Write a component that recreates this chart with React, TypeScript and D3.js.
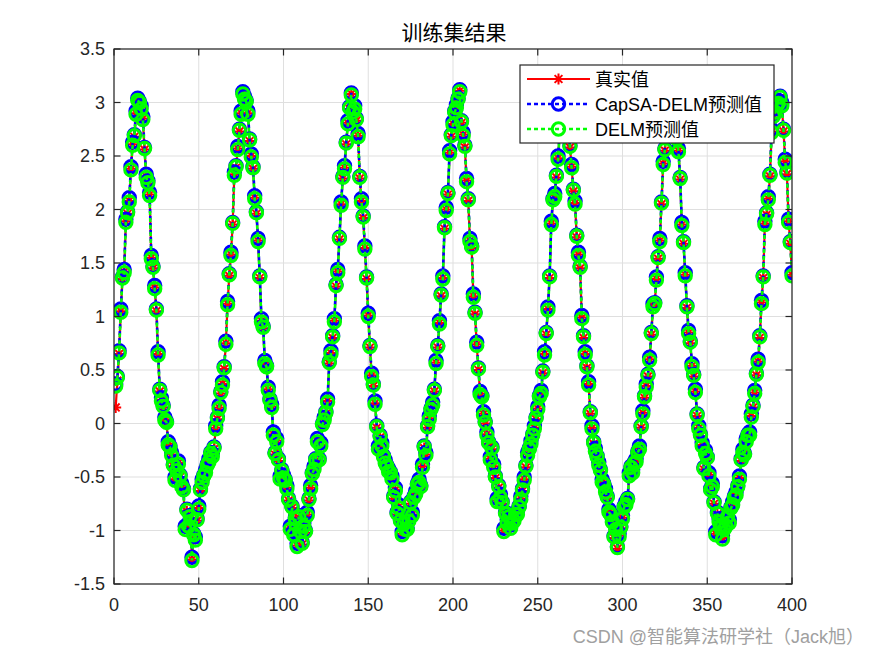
import React from 'react';
import * as d3 from 'd3';

const trueVals: number[] = [0.15,0.40,0.65,1.05,1.35,1.42,1.89,1.96,2.08,2.38,
2.61,2.68,2.90,3.03,2.99,2.95,2.85,2.56,2.31,2.24,
2.14,1.55,1.45,1.27,1.05,0.65,0.30,0.22,0.15,0.04,
0.00,-0.19,-0.23,-0.29,-0.40,-0.52,-0.45,-0.37,-0.50,-0.58,
-0.63,-0.98,-0.82,-0.95,-0.88,-1.27,-1.05,-1.08,-0.91,-0.79,
-0.63,-0.54,-0.50,-0.45,-0.40,-0.35,-0.29,-0.30,-0.24,-0.04,
0.04,0.15,0.28,0.37,0.51,0.75,1.12,1.38,1.58,1.86,
2.33,2.39,2.57,2.73,2.90,3.09,3.04,3.00,2.90,2.64,
2.50,2.38,2.11,1.96,1.71,1.36,0.96,0.89,0.57,0.52,
0.32,0.21,0.16,-0.10,-0.29,-0.16,-0.35,-0.51,-0.45,-0.50,
-0.54,-0.60,-0.72,-0.98,-0.79,-1.03,-0.90,-1.14,-0.88,-1.00,
-1.13,-0.95,-1.02,-0.85,-0.72,-0.60,-0.48,-0.42,-0.35,-0.16,
-0.35,-0.20,-0.02,0.04,0.09,0.21,0.56,0.66,0.80,0.96,
1.28,1.42,1.72,2.05,2.29,2.39,2.61,2.81,2.94,3.08,
2.90,2.95,2.83,2.69,2.29,2.08,1.92,1.64,1.35,1.01,
0.71,0.45,0.35,0.19,-0.04,-0.23,-0.13,-0.20,-0.32,-0.36,
-0.41,-0.44,-0.47,-0.51,-0.70,-0.62,-0.85,-0.78,-0.92,-1.03,
-0.95,-0.98,-1.00,-0.90,-0.75,-0.85,-0.70,-0.65,-0.58,-0.54,
-0.60,-0.40,-0.23,-0.29,-0.04,0.05,0.12,0.18,0.30,0.57,
0.71,0.94,1.19,1.36,1.82,2.00,2.14,2.53,2.68,2.80,
2.90,2.96,3.02,3.11,2.81,2.70,2.58,2.27,2.08,1.71,
1.64,1.19,1.02,0.74,0.50,0.28,0.24,0.09,0.00,-0.10,
-0.19,-0.33,-0.24,-0.40,-0.51,-0.72,-0.60,-0.68,-0.75,-1.00,
-0.85,-0.92,-0.88,-0.97,-0.94,-0.90,-0.86,-0.84,-0.79,-0.70,
-0.63,-0.52,-0.41,-0.29,-0.25,-0.18,-0.12,-0.04,0.04,0.14,
0.24,0.29,0.47,0.65,0.83,1.07,1.36,1.87,2.08,2.13,
2.30,2.48,2.72,2.88,3.00,3.06,2.95,2.78,2.58,2.40,
2.17,2.06,1.74,1.58,1.45,0.99,0.80,0.65,0.52,0.37,
0.09,-0.04,-0.19,-0.25,-0.32,-0.38,-0.45,-0.54,-0.58,-0.63,
-0.70,-0.82,-0.86,-0.91,-1.07,-0.98,-1.17,-1.05,-0.98,-0.88,
-0.79,-0.75,-0.72,-0.48,-0.42,-0.45,-0.38,-0.35,-0.28,-0.23,
-0.04,0.10,0.24,0.35,0.44,0.60,0.83,1.10,1.11,1.35,
1.54,1.71,2.05,2.43,2.55,2.75,2.92,3.02,3.05,2.95,
2.80,2.65,2.55,2.28,1.86,1.68,1.39,1.08,0.85,0.75,
0.54,0.44,0.30,0.07,-0.04,-0.12,-0.20,-0.43,-0.27,-0.33,
-0.48,-0.63,-0.58,-0.75,-1.03,-0.85,-0.91,-0.98,-1.07,-1.00,
-0.95,-0.88,-0.92,-0.80,-0.75,-0.70,-0.66,-0.60,-0.51,-0.35,
-0.26,-0.30,-0.16,-0.12,-0.10,0.07,0.15,0.29,0.45,0.58,
0.80,1.13,1.36,1.87,1.95,2.10,2.31,2.73,2.86,2.92,
2.97,3.00,3.04,2.98,2.73,2.45,2.33,1.89,1.68,1.39];

const capsaVals: number[] = [0.37,0.44,0.68,1.07,1.37,1.44,1.91,1.98,2.11,2.40,
2.63,2.70,2.92,3.04,3.01,2.97,2.87,2.58,2.33,2.27,
2.16,1.57,1.47,1.29,1.07,0.67,0.32,0.24,0.17,0.06,
0.02,-0.17,-0.21,-0.27,-0.38,-0.50,-0.43,-0.35,-0.48,-0.56,
-0.61,-0.96,-0.80,-0.93,-0.86,-1.25,-1.03,-1.06,-0.89,-0.77,
-0.61,-0.52,-0.48,-0.43,-0.38,-0.33,-0.27,-0.28,-0.22,-0.02,
0.06,0.17,0.30,0.39,0.53,0.77,1.14,1.40,1.60,1.88,
2.35,2.41,2.59,2.75,2.92,3.10,3.06,3.02,2.92,2.66,
2.52,2.40,2.13,1.98,1.73,1.38,0.98,0.91,0.59,0.54,
0.34,0.23,0.18,-0.08,-0.27,-0.14,-0.33,-0.49,-0.43,-0.48,
-0.52,-0.58,-0.70,-0.96,-0.77,-1.01,-0.88,-1.12,-0.86,-0.98,
-1.11,-0.93,-1.00,-0.83,-0.70,-0.58,-0.46,-0.40,-0.33,-0.14,
-0.33,-0.18,0.00,0.06,0.11,0.23,0.58,0.68,0.82,0.98,
1.30,1.44,1.74,2.07,2.31,2.41,2.63,2.83,2.96,3.09,
2.92,2.97,2.85,2.71,2.31,2.10,1.94,1.66,1.37,1.03,
0.73,0.47,0.37,0.21,-0.02,-0.21,-0.11,-0.18,-0.30,-0.34,
-0.39,-0.42,-0.45,-0.49,-0.68,-0.60,-0.83,-0.76,-0.90,-1.01,
-0.93,-0.96,-0.98,-0.88,-0.73,-0.83,-0.68,-0.63,-0.56,-0.52,
-0.58,-0.38,-0.21,-0.27,-0.02,0.07,0.14,0.20,0.32,0.59,
0.73,0.96,1.21,1.38,1.84,2.02,2.16,2.55,2.70,2.82,
2.92,2.98,3.04,3.12,2.83,2.72,2.60,2.29,2.10,1.73,
1.66,1.21,1.04,0.76,0.52,0.30,0.26,0.11,0.02,-0.08,
-0.17,-0.31,-0.22,-0.38,-0.49,-0.70,-0.58,-0.66,-0.73,-0.98,
-0.83,-0.90,-0.86,-0.95,-0.92,-0.88,-0.84,-0.82,-0.77,-0.68,
-0.61,-0.50,-0.39,-0.27,-0.23,-0.16,-0.10,-0.02,0.06,0.16,
0.26,0.31,0.49,0.67,0.85,1.09,1.38,1.89,2.10,2.15,
2.32,2.50,2.74,2.90,3.02,3.07,2.97,2.80,2.60,2.42,
2.19,2.08,1.76,1.60,1.47,1.01,0.82,0.67,0.54,0.39,
0.11,-0.02,-0.17,-0.23,-0.30,-0.36,-0.43,-0.52,-0.56,-0.61,
-0.68,-0.80,-0.84,-0.89,-1.05,-0.96,-1.15,-1.03,-0.96,-0.86,
-0.77,-0.73,-0.70,-0.46,-0.40,-0.43,-0.36,-0.33,-0.26,-0.21,
-0.02,0.12,0.26,0.37,0.46,0.62,0.85,1.12,1.13,1.37,
1.56,1.73,2.07,2.45,2.57,2.77,2.94,3.04,3.06,2.97,
2.82,2.67,2.57,2.30,1.88,1.70,1.41,1.10,0.87,0.77,
0.56,0.46,0.32,0.09,-0.02,-0.10,-0.18,-0.41,-0.25,-0.31,
-0.46,-0.61,-0.56,-0.73,-1.01,-0.83,-0.89,-0.96,-1.05,-0.98,
-0.93,-0.86,-0.90,-0.78,-0.73,-0.68,-0.64,-0.58,-0.49,-0.33,
-0.24,-0.28,-0.14,-0.10,-0.08,0.09,0.17,0.31,0.47,0.60,
0.82,1.15,1.38,1.89,1.97,2.12,2.33,2.75,2.88,2.94,
2.99,3.02,3.06,3.00,2.75,2.47,2.35,1.91,1.70,1.41];

const delmVals: number[] = [0.35,0.43,0.66,1.04,1.36,1.41,1.88,1.97,2.07,2.37,
2.60,2.69,2.89,3.02,3.00,2.94,2.84,2.57,2.30,2.25,
2.13,1.54,1.46,1.26,1.06,0.64,0.31,0.21,0.16,0.03,
0.01,-0.20,-0.22,-0.30,-0.39,-0.53,-0.44,-0.38,-0.49,-0.59,
-0.62,-0.99,-0.81,-0.96,-0.87,-1.28,-1.04,-1.09,-0.90,-0.80,
-0.62,-0.55,-0.49,-0.46,-0.39,-0.36,-0.28,-0.31,-0.23,-0.05,
0.05,0.14,0.29,0.36,0.52,0.74,1.11,1.39,1.57,1.87,
2.32,2.40,2.56,2.74,2.89,3.08,3.03,3.01,2.89,2.65,
2.49,2.39,2.10,1.97,1.70,1.37,0.95,0.90,0.56,0.53,
0.31,0.22,0.15,-0.11,-0.28,-0.17,-0.34,-0.52,-0.44,-0.51,
-0.53,-0.61,-0.71,-0.99,-0.78,-1.04,-0.89,-1.15,-0.87,-1.01,
-1.12,-0.96,-1.01,-0.86,-0.71,-0.61,-0.47,-0.43,-0.34,-0.17,
-0.34,-0.21,-0.01,0.03,0.10,0.20,0.57,0.65,0.81,0.95,
1.29,1.41,1.73,2.04,2.30,2.38,2.62,2.80,2.95,3.07,
2.91,2.94,2.84,2.68,2.30,2.07,1.93,1.63,1.36,1.00,
0.72,0.44,0.36,0.18,-0.03,-0.24,-0.12,-0.21,-0.31,-0.37,
-0.40,-0.45,-0.46,-0.52,-0.69,-0.63,-0.84,-0.79,-0.91,-1.04,
-0.94,-0.99,-0.99,-0.91,-0.74,-0.86,-0.69,-0.66,-0.57,-0.55,
-0.59,-0.41,-0.22,-0.30,-0.03,0.04,0.13,0.17,0.31,0.56,
0.72,0.93,1.20,1.35,1.83,1.99,2.15,2.52,2.69,2.79,
2.91,2.95,3.03,3.10,2.82,2.69,2.59,2.26,2.09,1.70,
1.65,1.18,1.03,0.73,0.51,0.27,0.25,0.08,0.01,-0.11,
-0.18,-0.34,-0.23,-0.41,-0.50,-0.73,-0.59,-0.69,-0.74,-1.01,
-0.84,-0.93,-0.87,-0.98,-0.93,-0.91,-0.85,-0.85,-0.78,-0.71,
-0.62,-0.53,-0.40,-0.30,-0.24,-0.19,-0.11,-0.05,0.05,0.13,
0.25,0.28,0.48,0.64,0.84,1.06,1.37,1.86,2.09,2.12,
2.31,2.47,2.73,2.87,3.01,3.05,2.96,2.77,2.59,2.39,
2.18,2.05,1.75,1.57,1.46,0.98,0.81,0.64,0.53,0.36,
0.10,-0.05,-0.18,-0.26,-0.31,-0.39,-0.44,-0.55,-0.57,-0.64,
-0.69,-0.83,-0.85,-0.92,-1.06,-0.99,-1.16,-1.06,-0.97,-0.89,
-0.78,-0.76,-0.71,-0.49,-0.41,-0.46,-0.37,-0.36,-0.27,-0.24,
-0.03,0.09,0.25,0.34,0.45,0.59,0.84,1.09,1.12,1.34,
1.55,1.70,2.06,2.42,2.56,2.74,2.93,3.01,3.04,2.96,
2.79,2.66,2.54,2.29,1.85,1.69,1.38,1.09,0.84,0.76,
0.53,0.45,0.29,0.08,-0.05,-0.11,-0.21,-0.42,-0.28,-0.32,
-0.49,-0.62,-0.59,-0.74,-1.04,-0.84,-0.92,-0.97,-1.08,-0.99,
-0.96,-0.87,-0.93,-0.79,-0.76,-0.69,-0.67,-0.59,-0.52,-0.34,
-0.27,-0.29,-0.17,-0.11,-0.11,0.06,0.16,0.28,0.46,0.57,
0.81,1.12,1.37,1.86,1.96,2.09,2.32,2.72,2.87,2.91,
2.98,2.99,3.05,2.97,2.74,2.44,2.34,1.88,1.69,1.38];

const xTicks: number[] = [0, 50, 100, 150, 200, 250, 300, 350, 400];
const yTicks: number[] = [-1.5, -1, -0.5, 0, 0.5, 1, 1.5, 2, 2.5, 3, 3.5];
const legendLabels: string[] = ['真实值', 'CapSA-DELM预测值', 'DELM预测值'];
const titleText = '训练集结果';
const watermark = 'CSDN @智能算法研学社（Jack旭）';

const W = 875, H = 656;
const L = 114, R = 792, T = 49, B = 584;
const FONT = '"Liberation Sans", Arial, "Noto Sans CJK SC", sans-serif';
const AX = '#262626';
const MR = 6.2;
const MW = 3;

const star = (r: number) => {
  const d = r * 0.7071;
  return `M${-r},0H${r}M0,${-r}V${r}M${-d},${-d}L${d},${d}M${-d},${d}L${d},${-d}`;
};

export default function App() {
  const x = d3.scaleLinear().domain([0, 400]).range([L, R]);
  const y = d3.scaleLinear().domain([-1.5, 3.5]).range([B, T]);
  const line = d3.line<number>().x((_, i) => x(i + 1)).y((d) => y(d));
  const fmt = (v: number) => String(v);
  const tk = 6.5;

  const legX = 520, legY = 65, legW = 254, legH = 78;
  const rows = [79, 104, 129];

  return (
    <svg width={W} height={H} style={{ position: 'absolute', left: 0, top: 0, background: '#fff' }}
      xmlns="http://www.w3.org/2000/svg">
      <rect x={0} y={0} width={W} height={H} fill="#fff" />
      <rect x={L} y={T} width={R - L} height={B - T} fill="#fff" />
      <g stroke="#dfdfdf" strokeWidth={1}>
        {xTicks.map((t) => (
          <line key={'gx' + t} x1={x(t)} x2={x(t)} y1={T} y2={B} />
        ))}
        {yTicks.map((t) => (
          <line key={'gy' + t} x1={L} x2={R} y1={y(t)} y2={y(t)} />
        ))}
      </g>
      <defs>
        <clipPath id="plotclip">
          <rect x={L} y={T} width={R - L} height={B - T} />
        </clipPath>
      </defs>
      <g clipPath="url(#plotclip)">
        <path d={line(trueVals) || ''} fill="none" stroke="#ff0000" strokeWidth={2.2} />
        <g stroke="#ff0000" strokeWidth={2} fill="none">
          {trueVals.map((v, i) => (
            <path key={'s' + i} d={star(5.5)} transform={`translate(${x(i + 1)},${y(v)})`} />
          ))}
        </g>
        <path d={line(capsaVals) || ''} fill="none" stroke="#0000ff" strokeWidth={2.6} strokeDasharray="4 3" />
        <g stroke="#0000ff" strokeWidth={MW} fill="none">
          {capsaVals.map((v, i) => (
            <circle key={'c' + i} cx={x(i + 1)} cy={y(v)} r={MR} />
          ))}
        </g>
        <path d={line(delmVals) || ''} fill="none" stroke="#00ff00" strokeWidth={2.6} strokeDasharray="4 3" />
        <g stroke="#00ff00" strokeWidth={MW} fill="none">
          {delmVals.map((v, i) => (
            <circle key={'d' + i} cx={x(i + 1)} cy={y(v)} r={MR} />
          ))}
        </g>
      </g>
      <rect x={L} y={T} width={R - L} height={B - T} fill="none" stroke={AX} strokeWidth={1.2} />
      <g stroke={AX} strokeWidth={1.2}>
        {xTicks.map((t) => (
          <g key={'tx' + t}>
            <line x1={x(t)} x2={x(t)} y1={B} y2={B - tk} />
            <line x1={x(t)} x2={x(t)} y1={T} y2={T + tk} />
          </g>
        ))}
        {yTicks.map((t) => (
          <g key={'ty' + t}>
            <line x1={L} x2={L + tk} y1={y(t)} y2={y(t)} />
            <line x1={R} x2={R - tk} y1={y(t)} y2={y(t)} />
          </g>
        ))}
      </g>
      <g fontFamily={FONT} fontSize={18} fill={AX}>
        {xTicks.map((t) => (
          <text key={'lx' + t} x={x(t)} y={B + 27} textAnchor="middle">{fmt(t)}</text>
        ))}
        {yTicks.map((t) => (
          <text key={'ly' + t} x={L - 9} y={y(t) + 6} textAnchor="end">{fmt(t)}</text>
        ))}
      </g>
      <text x={(L + R) / 2 + 1} y={40} textAnchor="middle" fontFamily={FONT} fontSize={21} fill="#000">{titleText}</text>
      <rect x={legX} y={legY} width={legW} height={legH} fill="#fff" stroke={AX} strokeWidth={1.2} />
      <g>
        <line x1={527} x2={590} y1={rows[0]} y2={rows[0]} stroke="#ff0000" strokeWidth={2.2} />
        <path d={star(5.5)} transform={`translate(558.5,${rows[0]})`} stroke="#ff0000" strokeWidth={2} fill="none" />
        <line x1={527} x2={590} y1={rows[1]} y2={rows[1]} stroke="#0000ff" strokeWidth={2.6} strokeDasharray="4 3" />
        <circle cx={558.5} cy={rows[1]} r={MR} stroke="#0000ff" strokeWidth={MW} fill="none" />
        <line x1={527} x2={590} y1={rows[2]} y2={rows[2]} stroke="#00ff00" strokeWidth={2.6} strokeDasharray="4 3" />
        <circle cx={558.5} cy={rows[2]} r={MR} stroke="#00ff00" strokeWidth={MW} fill="none" />
      </g>
      <g fontFamily={FONT} fontSize={18} fill="#000">
        {legendLabels.map((s, i) => (
          <text key={'lg' + i} x={595} y={rows[i] + 6.5}>{s}</text>
        ))}
      </g>
      <text x={864} y={643} textAnchor="end" fontFamily={FONT} fontSize={18} fill="#a0a0a0">{watermark}</text>
    </svg>
  );
}
